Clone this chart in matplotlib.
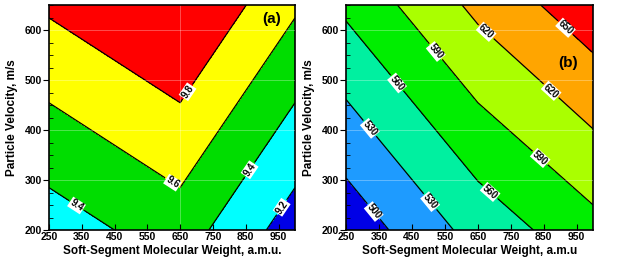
import matplotlib
matplotlib.use("Agg")
import matplotlib.pyplot as plt
from matplotlib.ticker import MultipleLocator
import numpy as np

plt.rcParams['font.family'] = ['Liberation Sans', 'DejaVu Sans']
plt.rcParams['font.weight'] = 'bold'

# grid nodes (piecewise, break at 650 a.m.u.)
mol_weight = [250, 650, 1000]
velocity = [200, 650]

# panel (a): values at the grid nodes, rows = velocity
vals_a = [[9.30, 9.50, 9.10],
          [9.83, 10.03, 9.63]]
levels_a = [9.0, 9.2, 9.4, 9.6, 9.8, 10.1]
colors_a = ['#0000e6', '#00ffff', '#00dd00', '#ffff00', '#ff0000']
labels_a = [(665, 480), (628, 296), (335, 250), (863, 320), (963, 244)]

# panel (b)
vals_b = [[480.1, 541.3, 580.1],
          [566.1, 627.3, 668.9]]
levels_b = [470, 500, 530, 560, 590, 620, 650, 680]
colors_b = ['#0000e6', '#1e9bff', '#00f0a0', '#00ee00', '#aaff00', '#ffa500', '#ff0000']
labels_b = [(332, 236), (511, 260), (323, 404), (408, 496), (687, 276),
            (520, 556), (839, 344), (666, 590), (869, 476), (915, 604)]

fig = plt.figure(figsize=(6.27, 2.70), dpi=100)
ax_a = fig.add_axes([0.078, 0.148, 0.3925, 0.833])
ax_b = fig.add_axes([0.552, 0.148, 0.394, 0.833])

X, Y = np.meshgrid(mol_weight, velocity)


def draw_panel(ax, vals, levels, colors, label_pos, fmt, tag, tag_xy, xlabel):
    Z = np.array(vals)
    ax.contourf(X, Y, Z, levels=levels, colors=colors)
    cs = ax.contour(X, Y, Z, levels=levels[1:-1], colors='black', linewidths=0.9)
    txt = ax.clabel(cs, fmt=fmt, fontsize=7, inline=True, inline_spacing=2,
                    manual=label_pos)
    for t in txt:
        t.set_fontweight('bold')
        t.set_bbox(dict(facecolor='white', edgecolor='none', pad=0.5))
    ax.set_xlim(250, 1000)
    ax.set_ylim(200, 650)
    ax.set_xticks(range(250, 1000, 100))
    ax.set_yticks(range(200, 700, 100))
    ax.yaxis.set_minor_locator(MultipleLocator(25))
    ax.tick_params(axis='x', direction='in', length=4, labelsize=7.5, pad=1.5)
    ax.tick_params(axis='y', which='major', direction='out', length=4,
                   labelsize=7.5, pad=1)
    ax.tick_params(axis='y', which='minor', direction='in', length=3)
    ax.grid(axis='y', color='white', alpha=0.35, linewidth=0.6)
    ax.set_axisbelow(False)
    ax.set_xlabel(xlabel, fontsize=8.5, fontweight='bold', labelpad=2)
    ax.set_ylabel('Particle Velocity, m/s', fontsize=8.5, fontweight='bold',
                  labelpad=5)
    ax.text(tag_xy[0], tag_xy[1], tag, fontsize=11, fontweight='bold')
    for s in ax.spines.values():
        s.set_linewidth(1.2)


draw_panel(ax_a, vals_a, levels_a, colors_a, labels_a, '%.1f', '(a)',
           (900, 615), 'Soft-Segment Molecular Weight, a.m.u.')
ax_a.axvline(650, color='white', alpha=0.35, linewidth=0.6)
draw_panel(ax_b, vals_b, levels_b, colors_b, labels_b, '%d', '(b)',
           (895, 526), 'Soft-Segment Molecular Weight, a.m.u')

fig.savefig('out.png', dpi=100)
